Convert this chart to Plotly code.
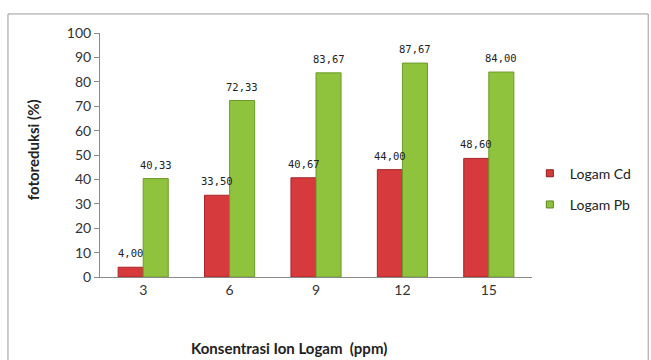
import plotly.graph_objects as go

# Metal ion concentration (ppm) and photoreduction (%) per metal
konsentrasi = ["3", "6", "9", "12", "15"]
logam_cd = [4.00, 33.50, 40.67, 44.00, 48.60]
logam_pb = [40.33, 72.33, 83.67, 87.67, 84.00]
y_ticks = list(range(0, 101, 10))

CD_COLOR = "#d63a3c"
PB_COLOR = "#8fc33d"
FAMILY = "Lato, Open Sans, sans-serif"


def fmt(v):
    return f"{v:.2f}".replace(".", ",")


label_font = dict(family="DejaVu Sans Mono", size=10.5, color="#222222")
tick_font = dict(family=FAMILY, size=14, color="#333333")
title_font = dict(family=FAMILY, size=15, color="#222222")

fig = go.Figure()
fig.add_trace(go.Bar(
    x=konsentrasi, y=logam_cd, name="Logam Cd", showlegend=False,
    marker=dict(color=CD_COLOR, line=dict(color="#a82527", width=1)),
))
fig.add_trace(go.Bar(
    x=konsentrasi, y=logam_pb, name="Logam Pb", showlegend=False,
    marker=dict(color=PB_COLOR, line=dict(color="#6d9a28", width=1)),
))

# Small square legend keys (point sits below the visible range)
for name, color, edge, grp in [("Logam Cd", CD_COLOR, "#8a1d1f", "cd"),
                               ("Logam Pb", PB_COLOR, "#5b8420", "pb")]:
    fig.add_trace(go.Scatter(
        x=[konsentrasi[0]], y=[-50], mode="markers", name=name, legendgroup=grp,
        marker=dict(symbol="square", size=7, color=color, line=dict(color=edge, width=1)),
        hoverinfo="skip", cliponaxis=True,
    ))

# Value labels placed above each bar (x given as category index)
annotations = []
for series, shift in [(logam_cd, -12.5), (logam_pb, 12.5)]:
    for i, v in enumerate(series):
        annotations.append(dict(
            x=i, y=v, xref="x", yref="y", text=fmt(v), showarrow=False,
            xshift=shift, yshift=14, xanchor="center", yanchor="middle",
            font=label_font,
        ))

annotations += [
    dict(text="<b>Konsentrasi Ion Logam  (ppm)</b>", xref="paper", yref="paper",
         x=0.4375, y=-0.29, xanchor="center", yanchor="middle",
         showarrow=False, font=title_font),
    dict(text="<b>fotoreduksi (%)</b>", xref="paper", yref="paper",
         x=-0.155, y=0.52, xanchor="center", yanchor="middle", textangle=-90,
         showarrow=False, font=title_font),
]

fig.update_layout(
    width=651, height=360,
    margin=dict(l=100, r=119, t=33, b=83, autoexpand=False),
    paper_bgcolor="white", plot_bgcolor="white",
    font=tick_font,
    barmode="group", bargap=0.42, bargroupgap=0.0,
    showlegend=True,
    legend=dict(x=0.995, xanchor="left", y=0.36, yanchor="middle",
                font=dict(family=FAMILY, size=14, color="#222222"),
                tracegroupgap=10, itemwidth=30, bgcolor="rgba(0,0,0,0)"),
    xaxis=dict(type="category", categoryorder="array", categoryarray=konsentrasi,
               range=[-0.5, len(konsentrasi) - 0.5],
               showline=True, linecolor="#8a8a8a", linewidth=1,
               ticks="", showgrid=False, tickfont=tick_font),
    yaxis=dict(range=[0, 100], tickvals=y_ticks, showline=True,
               linecolor="#8a8a8a", linewidth=1, ticks="outside",
               ticklen=5, tickcolor="#8a8a8a", showgrid=False,
               zeroline=False, tickfont=tick_font),
    annotations=annotations,
    shapes=[
        dict(type="rect", xref="paper", yref="paper",
             x0=-0.213, x1=1.269, y0=-0.36, y1=1.078,
             line=dict(color="#9a9a9a", width=1), fillcolor="rgba(0,0,0,0)", layer="below"),
    ],
)

fig.write_html("out.html")
